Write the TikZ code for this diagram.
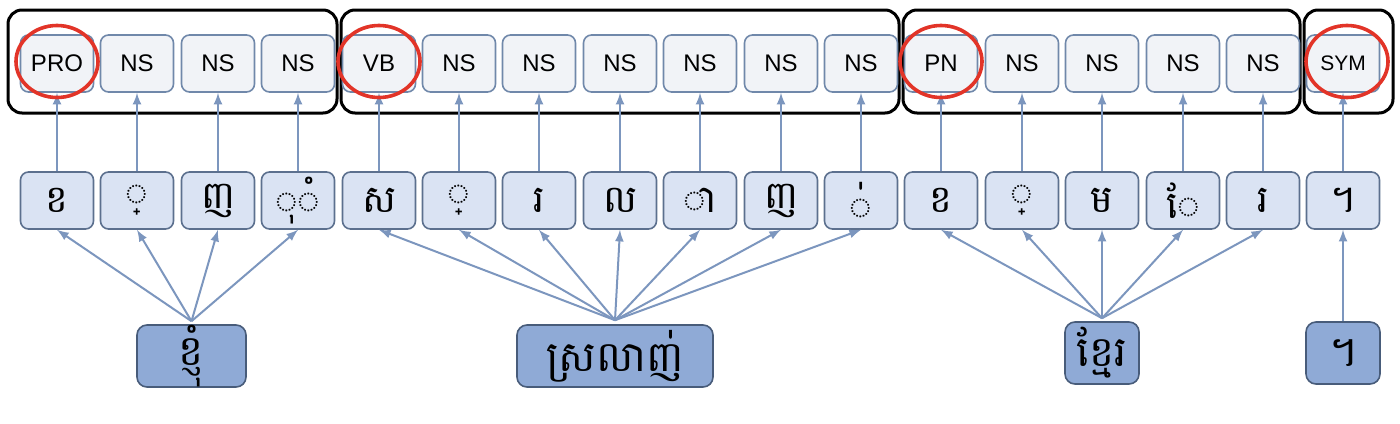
\documentclass[tikz,border=0pt]{standalone}
\usepackage{fontspec}
\usepackage{tikz}
\usepackage{xcolor}
\usetikzlibrary{arrows}
\newfontfamily\khmer[Script=Khmer]{Battambang}
\newfontfamily\tagfont{Liberation Sans}
\definecolor{tagfill}{RGB}{241,243,247}
\definecolor{tagline}{RGB}{112,136,170}
\definecolor{charfill}{RGB}{218,227,243}
\definecolor{charline}{RGB}{92,112,142}
\definecolor{wordfill}{RGB}{143,170,214}
\definecolor{wordline}{RGB}{72,92,122}
\definecolor{linkblue}{RGB}{124,150,190}
\definecolor{ringred}{RGB}{226,52,40}
\tikzset{
  tag/.style={draw=tagline, fill=tagfill, line width=0.8pt, rounded corners=4pt,
    minimum width=36.5pt, minimum height=28.5pt, inner sep=0pt,
    font=\tagfont\fontsize{12}{14}\selectfont},
  letter/.style={draw=charline, fill=charfill, line width=0.8pt, rounded corners=4pt,
    minimum width=36.5pt, minimum height=28.5pt, inner sep=0pt,
    font=\khmer\fontsize{19}{21}\selectfont},
  word/.style={draw=wordline, fill=wordfill, line width=0.8pt, rounded corners=5pt,
    minimum height=31pt, inner sep=0pt, font=\khmer\fontsize{21}{23}\selectfont},
  grp/.style={draw=black, line width=1.5pt, rounded corners=7pt},
  redring/.style={draw=ringred, line width=1.8pt},
  link/.style={draw=linkblue, line width=1pt, -latex}
}
\begin{document}
\begin{tikzpicture}[x=0.5pt, y=-0.5pt]
\useasboundingbox (0,0) rectangle (1400,423);
% группы
\draw [grp] (8,10) rectangle (337,113);
\draw [grp] (341,10) rectangle (899,113);
\draw [grp] (903,10) rectangle (1300,113);
\draw [grp] (1304,10) rectangle (1393,113);
% метки
\node [tag] (t1) at (57,63.5) {PRO};
\node [tag] (t2) at (137,63.5) {NS};
\node [tag] (t3) at (218,63.5) {NS};
\node [tag] (t4) at (298,63.5) {NS};
\node [tag] (t5) at (379,63.5) {VB};
\node [tag] (t6) at (459,63.5) {NS};
\node [tag] (t7) at (539,63.5) {NS};
\node [tag] (t8) at (620,63.5) {NS};
\node [tag] (t9) at (700,63.5) {NS};
\node [tag] (t10) at (781,63.5) {NS};
\node [tag] (t11) at (861,63.5) {NS};
\node [tag] (t12) at (941,63.5) {PN};
\node [tag] (t13) at (1022,63.5) {NS};
\node [tag] (t14) at (1102,63.5) {NS};
\node [tag] (t15) at (1183,63.5) {NS};
\node [tag] (t16) at (1263,63.5) {NS};
\node [tag, font=\tagfont\fontsize{10.5}{12}\selectfont] (t17) at (1343,63.5) {SYM};
% буквы
\node [letter] (c1) at (57,200.5) {ខ};
\node [letter] (c2) at (137,200.5) {◌្};
\node [letter] (c3) at (218,200.5) {ញ};
\node [letter] (c4) at (298,200.5) {◌ុ◌ំ};
\node [letter] (c5) at (379,200.5) {ស};
\node [letter] (c6) at (459,200.5) {◌្};
\node [letter] (c7) at (539,200.5) {រ};
\node [letter] (c8) at (620,200.5) {ល};
\node [letter] (c9) at (700,200.5) {◌ា};
\node [letter] (c10) at (781,200.5) {ញ};
\node [letter] (c11) at (861,200.5) {◌់};
\node [letter] (c12) at (941,200.5) {ខ};
\node [letter] (c13) at (1022,200.5) {◌្};
\node [letter] (c14) at (1102,200.5) {ម};
\node [letter] (c15) at (1183,200.5) {◌ែ};
\node [letter] (c16) at (1263,200.5) {រ};
\node [letter] (c17) at (1343,200.5) {។};
% слова
\node [word, minimum width=54.5pt] (w1) at (191.5,356) {ខ្ញុំ};
\node [word, minimum width=98pt] (w2) at (615,356) {ស្រលាញ់};
\node [word, minimum width=37pt] (w3) at (1102,353) {ខ្មែរ};
\node [word, minimum width=37pt] (w4) at (1343,353) {។};
% стрелки
\foreach \i in {1,...,17}
  \draw [link] (c\i.north) -- (t\i.south);
\foreach \i in {1,...,4}
  \draw [link] ([yshift=1.5pt]w1.north) -- (c\i.south);
\foreach \i in {5,...,11}
  \draw [link] ([yshift=2pt]w2.north) -- (c\i.south);
\foreach \i in {12,...,16}
  \draw [link] ([yshift=1.5pt]w3.north) -- (c\i.south);
\draw [link] (w4.north) -- (c17.south);
% круги
\draw [redring] ([yshift=1pt]t1.center) ellipse [x radius=20.5pt, y radius=18pt];
\draw [redring] ([yshift=1pt]t5.center) ellipse [x radius=20.5pt, y radius=18pt];
\draw [redring] ([yshift=1pt]t12.center) ellipse [x radius=20.5pt, y radius=18pt];
\draw [redring] ([yshift=1pt,xshift=2pt]t17.center) ellipse [x radius=20.5pt, y radius=18pt];
\end{tikzpicture}
\end{document}
